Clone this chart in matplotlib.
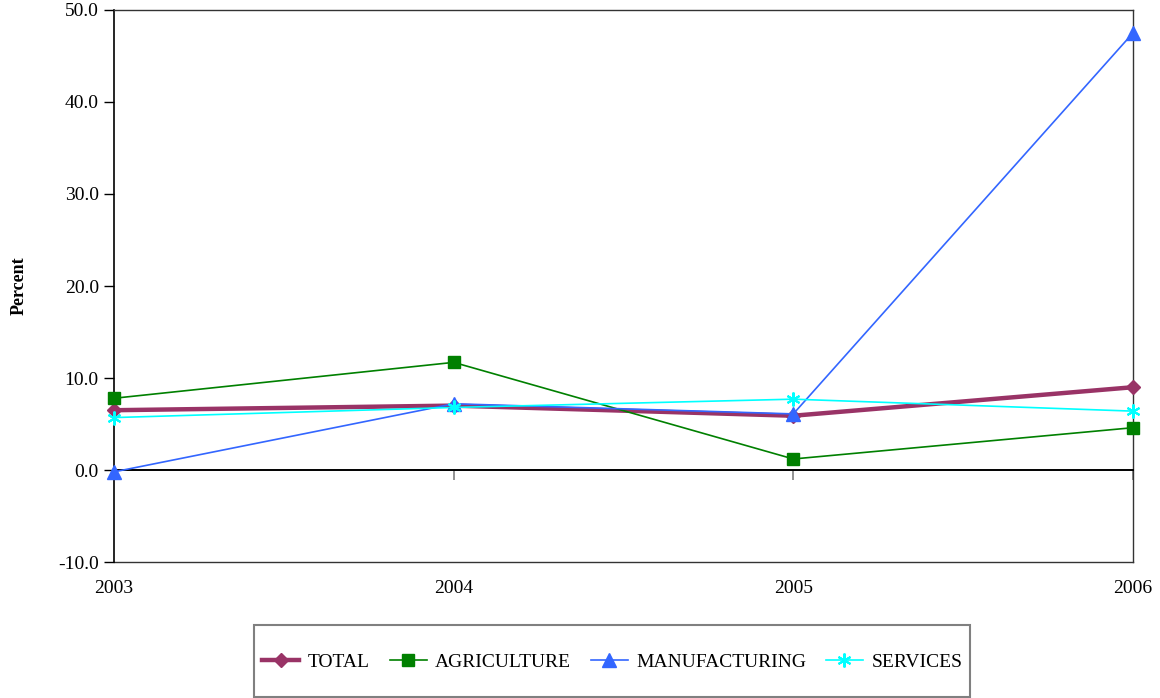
import matplotlib.pyplot as plt
from matplotlib.patches import Rectangle
import numpy as np

plt.rcParams['font.family'] = ['Liberation Serif', 'DejaVu Serif']

years = ['2003', '2004', '2005', '2006']
total = [6.5, 7.0, 5.9, 9.0]
agriculture = [7.8, 11.7, 1.2, 4.6]
manufacturing = [-0.2, 7.2, 6.1, 47.5]
services = [5.7, 6.8, 7.7, 6.4]

x = np.arange(len(years))

fig = plt.figure(figsize=(11.6, 6.98), dpi=100)
ax = fig.add_axes([0.0983, 0.1948, 0.8784, 0.7909])

ax.plot(x, total, color='#993366', lw=3.2, marker='D', ms=7, label='TOTAL', zorder=3, clip_on=False)
ax.plot(x, agriculture, color='#008000', lw=1.2, marker='s', ms=9, label='AGRICULTURE', zorder=4, clip_on=False)
ax.plot(x, manufacturing, color='#3366FF', lw=1.2, marker='^', ms=10, label='MANUFACTURING', zorder=5, clip_on=False)
ax.plot(x, services, color='#00FFFF', lw=1.2, marker=(6, 2, 0), ms=10, mew=1.5,
        label='SERVICES', zorder=6, clip_on=False)

ax.set_xlim(0, 3)
ax.set_ylim(-10, 50)
ax.set_yticks(np.arange(-10, 51, 10))
ax.set_yticklabels(['%.1f' % v for v in np.arange(-10, 51, 10)], fontsize=14)
ax.tick_params(axis='y', direction='out', length=7, width=1, pad=4)

# x axis line crosses at zero, ticks there, labels at the bottom
ax.spines['bottom'].set_position(('data', 0))
ax.spines['bottom'].set_linewidth(1.4)
ax.set_xticks(x)
ax.tick_params(axis='x', direction='out', length=7, width=1.2, color='#808080',
               labelbottom=False)
for s in ['top', 'right']:
    ax.spines[s].set_color('#333333')
    ax.spines[s].set_linewidth(1)
ax.spines['left'].set_linewidth(1.2)

sec = ax.secondary_xaxis(0.0)
sec.set_xticks(x)
sec.set_xticklabels(years, fontsize=14)
sec.tick_params(length=0, pad=13)
sec.spines['bottom'].set_color('#333333')
sec.spines['bottom'].set_linewidth(1)

ax.set_ylabel('Percent', fontsize=13, fontweight='bold', labelpad=22)

# legend box
fig.patches.append(Rectangle((0.219, 0.002), 0.617, 0.103, transform=fig.transFigure,
                             fill=False, edgecolor='#808080', lw=1.5))
leg = fig.legend(loc='center', bbox_to_anchor=(0.528, 0.052), ncol=4, fontsize=14,
                 frameon=False, borderpad=0.3,
                 handlelength=1.9, columnspacing=1.0, handletextpad=0.45)

fig.savefig('out.png', dpi=100)
